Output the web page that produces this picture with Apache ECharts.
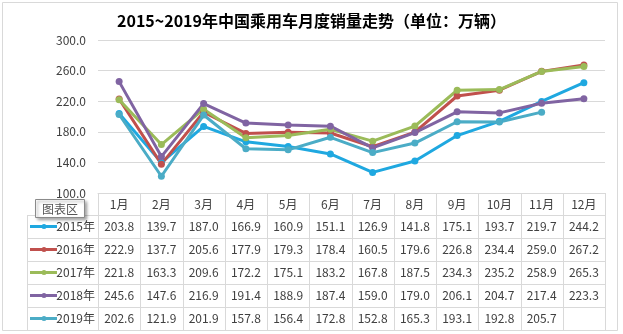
<!DOCTYPE html>
<html>
<head>
<meta charset="utf-8">
<script src="https://cdn.jsdelivr.net/npm/echarts@6/dist/echarts.min.js"></script>
<style>
html,body{margin:0;padding:0;background:#fff;}
#c{width:623px;height:334px;}
</style>
</head>
<body>
<div id="c"></div>
<script>
var titleText = '2015~2019年中国乘用车月度销量走势（单位：万辆）';
var months = ['1月','2月','3月','4月','5月','6月','7月','8月','9月','10月','11月','12月'];
var seriesNames = ['2015年','2016年','2017年','2018年','2019年'];
var y2015 = [203.8,139.7,187.0,166.9,160.9,151.1,126.9,141.8,175.1,193.7,219.7,244.2];
var y2016 = [222.9,137.7,205.6,177.9,179.3,178.4,160.5,179.6,226.8,234.4,259.0,267.2];
var y2017 = [221.8,163.3,209.6,172.2,175.1,183.2,167.8,187.5,234.3,235.2,258.9,265.3];
var y2018 = [245.6,147.6,216.9,191.4,188.9,187.4,159.0,179.0,206.1,204.7,217.4,223.3];
var y2019 = [202.6,121.9,201.9,157.8,156.4,172.8,152.8,165.3,193.1,192.8,205.7,null];
var yTicks = [100,140,180,220,260,300];

var allData = [y2015,y2016,y2017,y2018,y2019];
var colors = ['#1FA8E0','#C0504D','#9BBB59','#8064A2','#4BACC6'];
var FONT = '"Noto Sans CJK SC","Microsoft YaHei",sans-serif';
var TXT = '#404040';
var GRID_C = '#d9d9d9';

var chart = echarts.init(document.getElementById('c'), null, {renderer:'canvas'});

var series = allData.map(function(d,i){
  return {
    name: seriesNames[i], type:'line', data: d,
    symbol:'circle', symbolSize:7, showSymbol:true,
    lineStyle:{width:3,color:colors[i]},
    itemStyle:{color:colors[i]},
    connectNulls:false, z: 3
  };
});

chart.setOption({
  animation:false,
  backgroundColor:'#fff',
  title:{text:titleText,left:'center',top:8,
    textStyle:{fontFamily:FONT,fontSize:16,fontWeight:'bold',color:'#000'}},
  grid:{left:98,right:18,top:40,bottom:141,containLabel:false},
  xAxis:{type:'category',data:months,boundaryGap:true,
    axisLine:{show:true,lineStyle:{color:GRID_C}},
    axisTick:{show:false},
    axisLabel:{margin:5,fontFamily:FONT,fontSize:12,color:TXT,interval:0}},
  yAxis:{type:'value',min:yTicks[0],max:yTicks[yTicks.length-1],interval:40,
    axisLine:{show:false},axisTick:{show:false},
    splitLine:{lineStyle:{color:GRID_C,width:1}},
    axisLabel:{margin:12,fontFamily:FONT,fontSize:12,color:TXT,
      formatter:function(v){return v.toFixed(1);}}},
  series:series
});

// Build data table under the plot, aligned with category axis
var c0 = chart.convertToPixel({xAxisIndex:0}, months[0]);
var c1 = chart.convertToPixel({xAxisIndex:0}, months[1]);
var colW = c1 - c0;
var tblLeft = c0 - colW/2;
var tblRight = tblLeft + colW*months.length;
var axisY = chart.convertToPixel({yAxisIndex:0}, yTicks[0]);
var headH = 22, rowH = 23;
var catLeft = 27;
var g = [];
var rowsTop = axisY + headH;
var tblBottom = rowsTop + rowH*seriesNames.length;
// outer chart border
g.push({type:'rect',shape:{x:2.5,y:2.5,width:615,height:328},style:{fill:null,stroke:GRID_C,lineWidth:1},z:0,silent:true});
// horizontal lines
for (var r=0;r<=seriesNames.length;r++){
  var yy = Math.round(rowsTop + r*rowH)+0.5;
  g.push({type:'line',shape:{x1:catLeft,y1:yy,x2:tblRight,y2:yy},style:{stroke:GRID_C,lineWidth:1},z:1});
}
// vertical lines
g.push({type:'line',shape:{x1:catLeft+0.5,y1:rowsTop,x2:catLeft+0.5,y2:tblBottom},style:{stroke:GRID_C,lineWidth:1},z:1});
for (var k=0;k<=months.length;k++){
  var xx = Math.round(tblLeft + k*colW)+0.5;
  g.push({type:'line',shape:{x1:xx,y1:axisY,x2:xx,y2:tblBottom},style:{stroke:GRID_C,lineWidth:1},z:1});
}
// row contents
for (var s=0;s<seriesNames.length;s++){
  var cy = rowsTop + s*rowH + rowH/2;
  g.push({type:'line',shape:{x1:30,y1:cy,x2:57,y2:cy},style:{stroke:colors[s],lineWidth:3},z:2});
  g.push({type:'circle',shape:{cx:44,cy:cy,r:2.5},style:{fill:colors[s]},z:2});
  g.push({type:'text',style:{text:seriesNames[s],x:95,y:cy,align:'right',verticalAlign:'middle',
    font:'12px '+FONT,fill:TXT},z:3});
  for (var m=0;m<months.length;m++){
    var v = allData[s][m];
    if (v===null||v===undefined) continue;
    g.push({type:'text',style:{text:v.toFixed(1),x:tblLeft+colW*(m+0.5),y:cy,align:'center',verticalAlign:'middle',
      font:'12px '+FONT,fill:TXT},z:3});
  }
}
// "图表区" tooltip box (Excel hover label)
g.push({type:'rect',shape:{x:35.5,y:199.5,width:49,height:18},
  style:{fill:'#fff',stroke:'#8a8a8a',lineWidth:1,shadowBlur:3,shadowOffsetX:2,shadowOffsetY:2,shadowColor:'rgba(0,0,0,0.35)'},z:10});
g.push({type:'text',style:{text:'图表区',x:60,y:209,align:'center',verticalAlign:'middle',font:'12px '+FONT,fill:'#555'},z:11});

chart.setOption({graphic:g});
</script>
</body>
</html>
